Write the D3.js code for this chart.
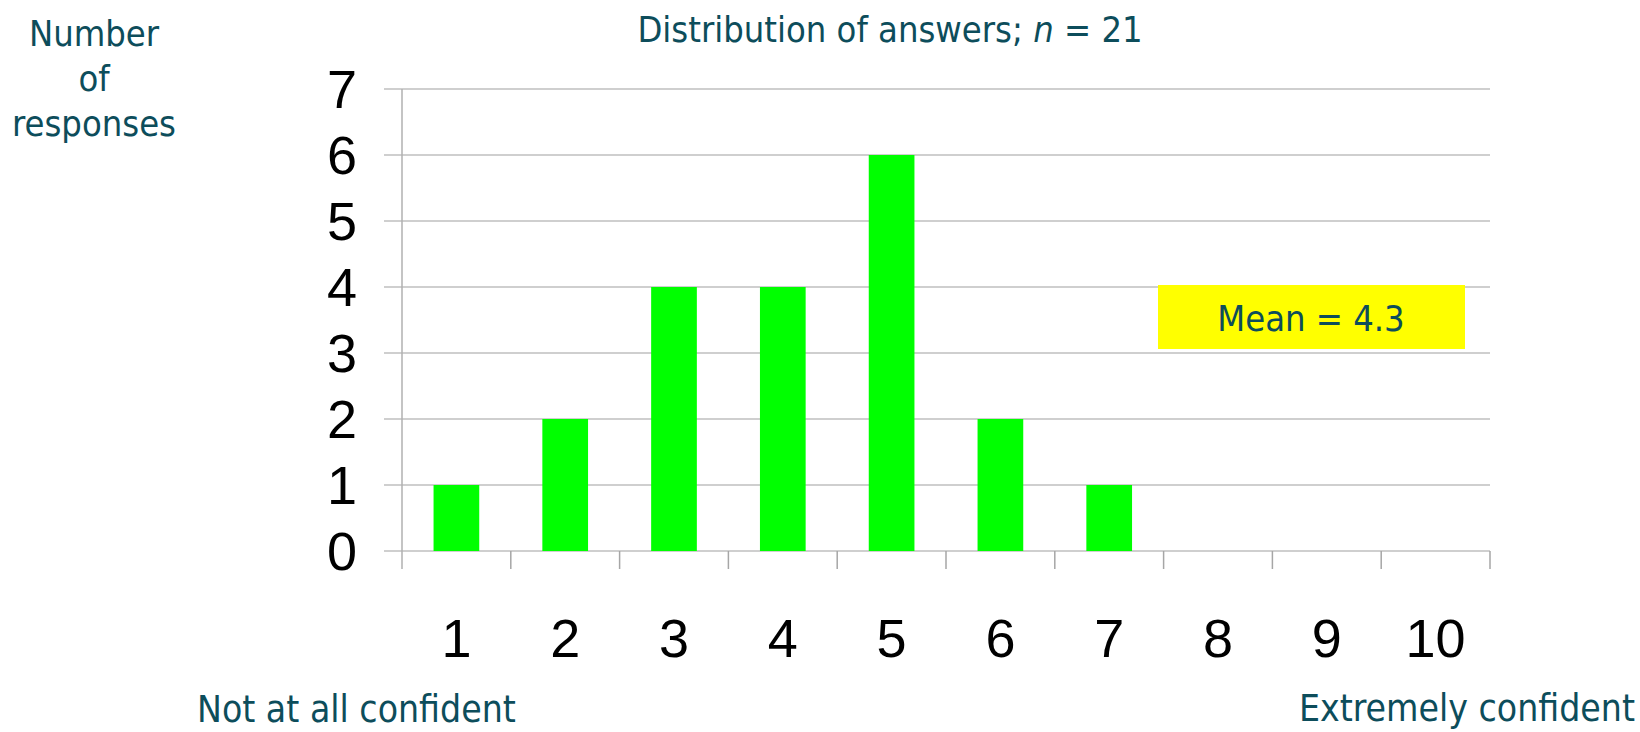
<!DOCTYPE html>
<html>
<head>
<meta charset="utf-8">
<script src="https://cdn.jsdelivr.net/npm/d3@7"></script>
<style>
  body { margin: 0; background: #fff; }
  svg { display: block; }
  .teal { fill: #0d4d5b; font-family: "DejaVu Sans Condensed", "DejaVu Sans", sans-serif; }
  .num { fill: #000; font-family: "Liberation Sans Narrow", "Liberation Sans", sans-serif; }
</style>
</head>
<body>
<svg width="1640" height="732"></svg>
<script>
// answers on the 1..10 confidence scale
var categories = ['1', '2', '3', '4', '5', '6', '7', '8', '9', '10'];
var counts = [1, 2, 4, 4, 6, 2, 1, 0, 0, 0];
var yTicks = [0, 1, 2, 3, 4, 5, 6, 7];
var meanValue = 4.3;
var nAnswers = 21;

var svg = d3.select("svg");

var plotLeft = 402, plotRight = 1490, plotTop = 89, plotBottom = 551;

var x = d3.scaleBand()
    .domain(categories)
    .range([plotLeft, plotRight])
    .paddingInner(0.58)
    .paddingOuter(0.29);

var y = d3.scaleLinear()
    .domain([0, 7])
    .range([plotBottom, plotTop]);

// horizontal gridlines
svg.append("g").selectAll("line")
  .data(yTicks)
  .enter().append("line")
    .attr("x1", plotLeft - 18)
    .attr("x2", plotRight)
    .attr("y1", function(d) { return y(d); })
    .attr("y2", function(d) { return y(d); })
    .attr("stroke", "#bfbfbf")
    .attr("stroke-width", 1.5);

// y axis line
svg.append("line")
  .attr("x1", plotLeft).attr("x2", plotLeft)
  .attr("y1", y(7)).attr("y2", plotBottom + 18)
  .attr("stroke", "#b0b0b0")
  .attr("stroke-width", 1.5);

// category boundary ticks
var gap = (x.step() - x.bandwidth()) / 2;
var bounds = categories.map(function(c) { return x(c) - gap; }).concat([plotRight]);
svg.append("g").selectAll("line")
  .data(bounds.slice(1))
  .enter().append("line")
    .attr("x1", function(d) { return d; })
    .attr("x2", function(d) { return d; })
    .attr("y1", plotBottom)
    .attr("y2", plotBottom + 18)
    .attr("stroke", "#a6a6a6")
    .attr("stroke-width", 1.5);

// bars
svg.append("g").selectAll("rect")
  .data(counts)
  .enter().append("rect")
    .attr("x", function(d, i) { return x(categories[i]); })
    .attr("y", function(d) { return y(d); })
    .attr("width", x.bandwidth())
    .attr("height", function(d) { return plotBottom - y(d); })
    .attr("fill", "#00ff00");

// y tick labels
svg.append("g").selectAll("text")
  .data(yTicks)
  .enter().append("text")
    .attr("class", "num")
    .attr("x", 357)
    .attr("y", function(d) { return y(d) + 19; })
    .attr("text-anchor", "end")
    .attr("font-size", 54)
    .text(function(d) { return d; });

// x tick labels
svg.append("g").selectAll("text")
  .data(categories)
  .enter().append("text")
    .attr("class", "num")
    .attr("x", function(d) { return x(d) + x.bandwidth() / 2; })
    .attr("y", 657)
    .attr("text-anchor", "middle")
    .attr("font-size", 54)
    .text(function(d) { return d; });

// title
var title = svg.append("text")
  .attr("class", "teal")
  .attr("x", 890)
  .attr("y", 42)
  .attr("text-anchor", "middle")
  .attr("font-size", 36);
title.append("tspan").text("Distribution of answers; ");
title.append("tspan").attr("font-style", "italic").text("n");
title.append("tspan").text(" = " + nAnswers);

// y axis title
svg.append("text")
  .attr("class", "teal")
  .attr("text-anchor", "middle")
  .attr("font-size", 36)
  .selectAll("tspan")
  .data(["Number", "of", "responses"])
  .enter().append("tspan")
    .attr("x", 94)
    .attr("y", function(d, i) { return 46 + i * 45; })
    .text(function(d) { return d; });

// mean annotation
svg.append("rect")
  .attr("x", 1158).attr("y", 285)
  .attr("width", 307).attr("height", 64)
  .attr("fill", "#ffff00");
svg.append("text")
  .attr("class", "teal")
  .attr("x", 1311).attr("y", 331)
  .attr("text-anchor", "middle")
  .attr("font-size", 36)
  .text("Mean = " + meanValue);

// scale end labels
svg.append("text")
  .attr("class", "teal")
  .attr("x", 197).attr("y", 722)
  .attr("font-size", 37)
  .text("Not at all confident");
svg.append("text")
  .attr("class", "teal")
  .attr("x", 1635).attr("y", 721)
  .attr("text-anchor", "end")
  .attr("font-size", 37)
  .text("Extremely confident");
</script>
</body>
</html>
